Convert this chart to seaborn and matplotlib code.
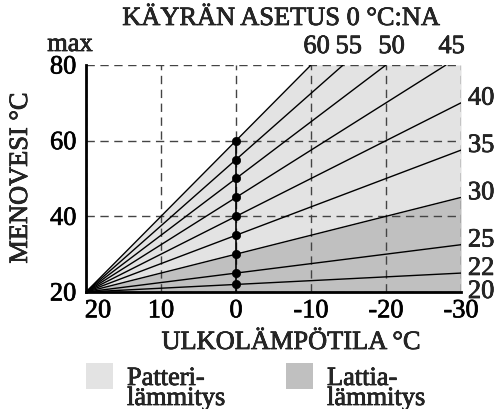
import numpy as np
import pandas as pd
import seaborn as sns
import matplotlib.pyplot as plt
import matplotlib.transforms as mtransforms
import matplotlib.patheffects as pe
from matplotlib.patches import Rectangle

# heating curve settings: supply water temp at 0 °C outdoor
settings = [22, 25, 30, 35, 40, 45, 50, 55, 60]
x_ticks = [20, 10, 0, -10, -20, -30]
x_ticklabels = ['20', '10', '0', '-10', '-20', '-30']
y_ticks = [20, 40, 60, 80]
floor_limit = 30      # upper curve of the floor heating zone
radiator_limit = 60   # upper curve of the radiator zone
title = 'KÄYRÄN ASETUS 0 °C:NA'
xlabel = 'ULKOLÄMPÖTILA °C'
ylabel = 'MENOVESI °C'
legend_labels = [['Patteri-', 'lämmitys'], ['Lattia-', 'lämmitys']]

X0, Y0 = 20, 20       # all curves start at 20 °C / 20 °C
XMIN, YMAX = -30, 80
LIGHT = '#e3e3e3'
DARK = '#c0c0c0'
FS = 19
HEAVY = [pe.withStroke(linewidth=0.5, foreground='black')]


def curve_y(v, x):
    return Y0 + (v - Y0) * (X0 - np.asarray(x, dtype=float)) / X0


def curve_end(v):
    y_end = curve_y(v, XMIN)
    if y_end <= YMAX:
        return XMIN, float(y_end)
    k = (v - Y0) / X0
    return X0 - (YMAX - Y0) / k, YMAX


rows = []
for v in settings:
    xe, ye = curve_end(v)
    rows.append({'x': X0, 'y': Y0, 'setting': v})
    rows.append({'x': xe, 'y': ye, 'setting': v})
curves = pd.DataFrame(rows)
dots = pd.DataFrame({'x': [0] * len(settings), 'y': settings})

sns.set_theme(style='white')
plt.rcParams['font.family'] = 'serif'
plt.rcParams['font.serif'] = ['Liberation Serif']
plt.rcParams['font.size'] = FS

fig = plt.figure(figsize=(4.96, 4.09), dpi=100, facecolor='white')
ax = fig.add_axes([86 / 496, 1 - 292 / 409, 375 / 496, 227 / 409])

# zones
xs = np.array([X0, curve_end(radiator_limit)[0], XMIN])
ax.fill_between(xs, Y0, curve_y(floor_limit, xs), color=DARK, lw=0, zorder=0.5)
ax.fill_between(xs, curve_y(floor_limit, xs),
                np.minimum(curve_y(radiator_limit, xs), YMAX),
                color=LIGHT, lw=0, zorder=0.5)

sns.lineplot(data=curves, x='x', y='y', units='setting', estimator=None,
             color='black', lw=1.0, ax=ax, zorder=3, legend=False)
ax.plot([0, 0], [Y0, max(settings)], color='black', lw=1.2, zorder=3)
sns.scatterplot(data=dots, x='x', y='y', color='black', s=36,
                edgecolor='black', ax=ax, zorder=4, legend=False)

ax.set_xlim(X0, XMIN)
ax.set_ylim(Y0, YMAX)
ax.set_xticks(x_ticks)
ax.set_xticklabels(x_ticklabels)
ax.set_yticks(y_ticks)
ax.set_xlabel('')
ax.set_ylabel('')
ax.set_facecolor('white')
ax.grid(True, color='#444444', lw=1.0, linestyle=(0, (6, 4)))
ax.set_axisbelow(False)
for s in ['top', 'right']:
    ax.spines[s].set_visible(False)
for s in ['left', 'bottom']:
    ax.spines[s].set_color('black')
    ax.spines[s].set_linewidth(2)
    ax.spines[s].set_zorder(5)
ax.tick_params(axis='both', direction='inout', length=6, width=1,
               color='black', labelsize=FS, labelcolor='black', pad=4)
ax.tick_params(axis='x', pad=3)
for t in ax.get_xticklabels() + ax.get_yticklabels():
    t.set_path_effects(HEAVY)
# shift the "20" x label off the corner
lbl = ax.get_xticklabels()[0]
lbl.set_transform(lbl.get_transform() +
                  mtransforms.ScaledTranslation(12 / 100, 0, fig.dpi_scale_trans))

# curve labels
ax.annotate('20', (XMIN, Y0), xytext=(5, 0), textcoords='offset points',
            ha='left', va='center', fontsize=FS, annotation_clip=False,
            path_effects=HEAVY)
for v in settings:
    xe, ye = curve_end(v)
    if ye < YMAX:
        ax.annotate(str(v), (xe, ye), xytext=(5, 3), textcoords='offset points',
                    ha='left', va='center', fontsize=FS, annotation_clip=False,
                    path_effects=HEAVY)
    else:
        ax.annotate(str(v), (xe, ye), xytext=(4, 5), textcoords='offset points',
                    ha='center', va='bottom', fontsize=FS, annotation_clip=False,
                    path_effects=HEAVY)

fig.text(281 / 496, 1 - 19 / 409, title, ha='center', va='center',
         fontsize=FS, path_effects=HEAVY)
fig.text(70 / 496, 1 - 45 / 409, 'max', ha='center', va='center',
         fontsize=FS, path_effects=HEAVY)
fig.text(291 / 496, 1 - 343 / 409, xlabel, ha='center', va='center',
         fontsize=FS, path_effects=HEAVY)
fig.text(21 / 496, 1 - 178 / 409, ylabel, ha='center', va='center',
         rotation=90, fontsize=FS, path_effects=HEAVY)

# legend
for i, (lines, col) in enumerate(zip(legend_labels, [LIGHT, DARK])):
    x0 = (86 + 200 * i) / 496
    fig.add_artist(Rectangle((x0, 1 - 389 / 409), 27 / 496, 26 / 409,
                             transform=fig.transFigure, color=col, lw=0))
    fig.text(x0 + 41 / 496, 1 - 385 / 409, lines[0], ha='left',
             va='baseline', fontsize=FS, path_effects=HEAVY)
    fig.text(x0 + 41 / 496, 1 - 405 / 409, lines[1], ha='left',
             va='baseline', fontsize=FS, path_effects=HEAVY)

fig.savefig('out.png', dpi=100, facecolor='white')
